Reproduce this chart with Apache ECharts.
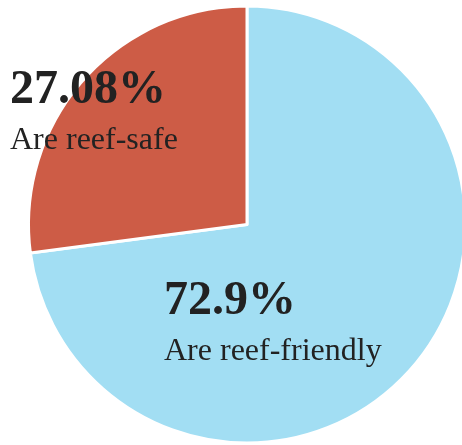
<!DOCTYPE html>
<html>
<head>
<meta charset="utf-8">
<script src="https://cdn.jsdelivr.net/npm/echarts@6/dist/echarts.min.js"></script>
<style>
html,body{margin:0;padding:0;background:#fff;}
#chart{width:462px;height:445px;}
</style>
</head>
<body>
<div id="chart"></div>
<script>
const categories = ['Are reef-friendly', 'Are reef-safe'];
const values = [72.9, 27.08];
const colors = ['#a2def3', '#cd5c46'];

const labelPos = [[164, 276], [10, 65]];

const chart = echarts.init(document.getElementById('chart'), null, {renderer: 'canvas'});
chart.setOption({
  animation: false,
  series: [{
    type: 'pie',
    center: [247, 224.5],
    radius: [0, 218.5],
    startAngle: 90,
    clockwise: true,
    data: categories.map((c, i) => ({name: c, value: values[i], itemStyle: {color: colors[i]}})),
    itemStyle: {borderColor: '#ffffff', borderWidth: 3},
    label: {
      show: true,
      position: 'inside',
      formatter: '{v|{c}%}\n{n|{b}}',
      align: 'left',
      rich: {
        v: {fontFamily: '"Liberation Serif", serif', fontWeight: 'bold', fontSize: 48, lineHeight: 52, color: '#222', align: 'left'},
        n: {fontFamily: '"Liberation Serif", serif', fontSize: 32, lineHeight: 47, color: '#222', align: 'left'}
      }
    },
    labelLine: {show: false},
    labelLayout: function (params) {
      const p = labelPos[params.dataIndex];
      return {x: p[0], y: p[1], align: 'left', verticalAlign: 'top'};
    },
    emphasis: {disabled: true}
  }]
});
</script>
</body>
</html>
